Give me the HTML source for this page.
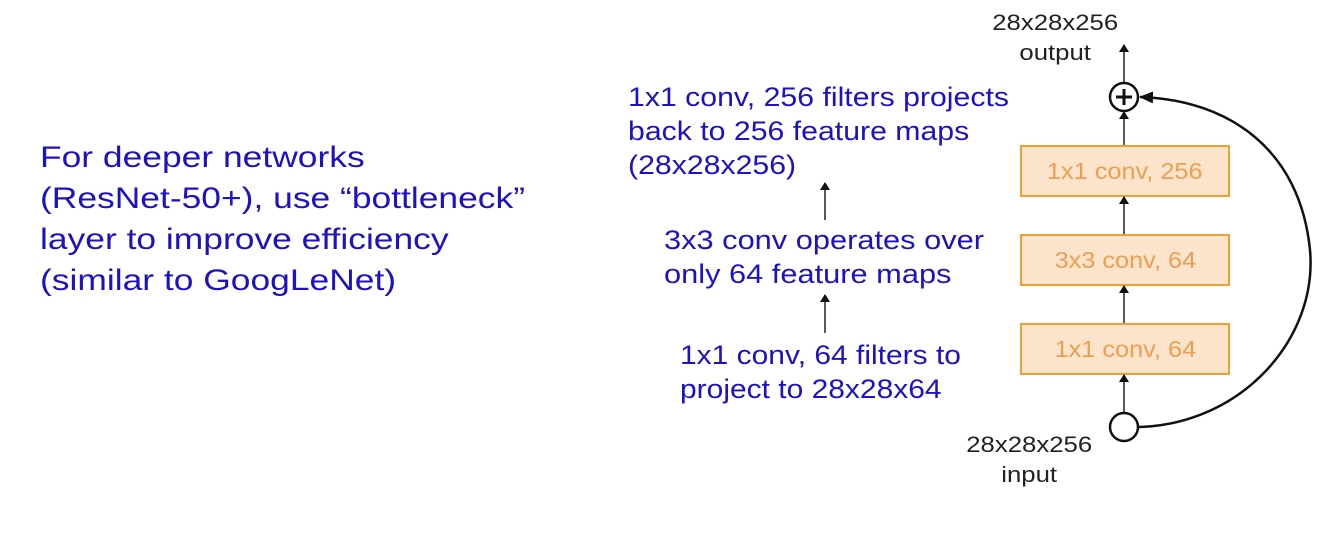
<!DOCTYPE html>
<html><head><style>
body{margin:0;width:1343px;height:540px;background:#fff;position:relative;overflow:hidden;font-family:"Liberation Sans",sans-serif}
.t{position:absolute;white-space:nowrap;transform-origin:0 0}
.b{color:#1c12c4}
.k{color:#222}
.box{position:absolute;left:1020px;width:206px;height:48px;border:2px solid #f0a030;background:#fbe3cc;color:#eba050;font-size:23px;text-align:center;line-height:48px;box-sizing:content-box}
.box span{display:inline-block;transform:scaleX(1.1)}
</style></head><body>
<div class="t b" style="left:40px;top:137px;font-size:30px;line-height:41px;transform:scaleX(1.18)">For deeper networks<br>(ResNet-50+), use “bottleneck”<br>layer to improve efficiency<br>(similar to GoogLeNet)</div>
<div class="t b" style="left:628px;top:80px;font-size:27px;line-height:34px;transform:scaleX(1.12)">1x1 conv, 256 filters projects<br>back to 256 feature maps<br>(28x28x256)</div>
<div class="t b" style="left:664px;top:223px;font-size:27px;line-height:34px;transform:scaleX(1.14)">3x3 conv operates over<br>only 64 feature maps</div>
<div class="t b" style="left:680px;top:338px;font-size:27px;line-height:34px;transform:scaleX(1.11)">1x1 conv, 64 filters to<br>project to 28x28x64</div>
<div class="t k" style="left:992px;top:8px;font-size:22px;line-height:30px;text-align:center;width:108px;transform:scaleX(1.17)">28x28x256<br>output</div>
<div class="t k" style="left:966px;top:430px;font-size:22px;line-height:30px;text-align:center;width:108px;transform:scaleX(1.17)">28x28x256<br>input</div>
<div class="box" style="top:145px"><span>1x1 conv, 256</span></div>
<div class="box" style="top:234px"><span>3x3 conv, 64</span></div>
<div class="box" style="top:323px"><span>1x1 conv, 64</span></div>
<svg width="1343" height="540" style="position:absolute;left:0;top:0">
<defs><marker id="a" markerWidth="8" markerHeight="10" refX="7" refY="5" orient="auto" markerUnits="userSpaceOnUse"><path d="M0,0 L8,5 L0,10z" fill="#111"/></marker>
<marker id="c" markerWidth="14" markerHeight="12" refX="13" refY="6" orient="auto" markerUnits="userSpaceOnUse"><path d="M0,0 L14,6 L0,12z" fill="#111"/></marker></defs>
<g stroke="#222" stroke-width="1.5" fill="none">
<line x1="1124" y1="82" x2="1124" y2="45" marker-end="url(#a)"/>
<line x1="1124" y1="145" x2="1124" y2="112" marker-end="url(#a)"/>
<line x1="1124" y1="234" x2="1124" y2="197" marker-end="url(#a)"/>
<line x1="1124" y1="323" x2="1124" y2="286" marker-end="url(#a)"/>
<line x1="1124" y1="413" x2="1124" y2="375" marker-end="url(#a)"/>
<line x1="825" y1="220" x2="825" y2="183" marker-end="url(#a)"/>
<line x1="825" y1="333" x2="825" y2="295" marker-end="url(#a)"/>
</g>
<circle cx="1124" cy="97" r="14" fill="#fff" stroke="#111" stroke-width="2.5"/>
<path d="M1116,97 H1132 M1124,89 V105" stroke="#111" stroke-width="3"/>
<circle cx="1124" cy="427" r="14" fill="#fff" stroke="#111" stroke-width="2.5"/>
<path d="M1138,427 C1240,425 1318,340 1310,250 C1300,150 1230,100 1140,97" fill="none" stroke="#111" stroke-width="2.5" marker-end="url(#c)"/>
</svg>
</body></html>
